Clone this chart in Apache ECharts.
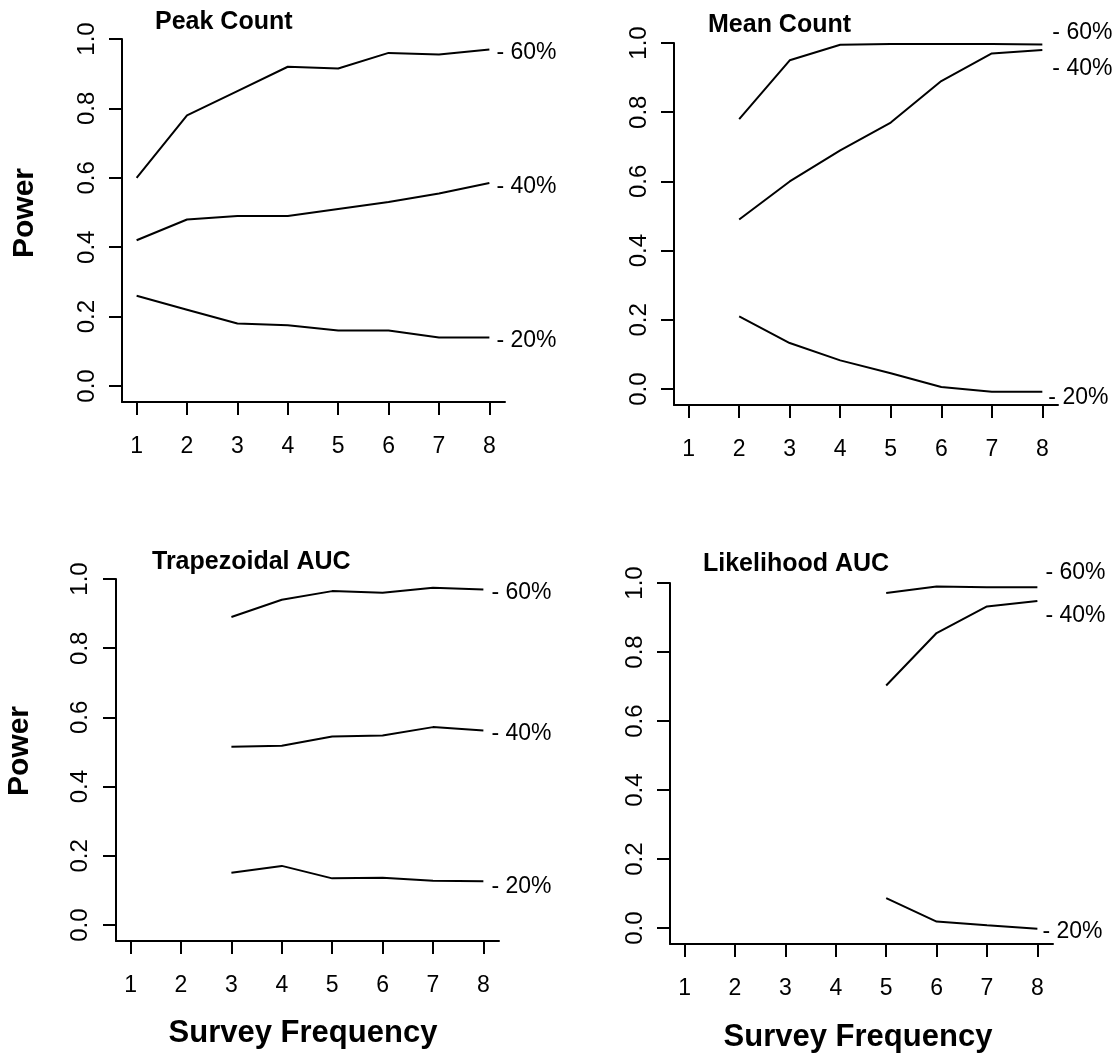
<!DOCTYPE html>
<html><head><meta charset="utf-8">
<script src="https://cdn.jsdelivr.net/npm/echarts@6/dist/echarts.min.js"></script>
<style>html,body{margin:0;padding:0;background:#fff}#chart{width:1118px;height:1060px}</style>
</head><body><div id="chart"></div>
<script>
// ---- data ----
const frequency = [1, 2, 3, 4, 5, 6, 7, 8];
const xTicks = [1, 2, 3, 4, 5, 6, 7, 8];
const yTicks = [0, 0.2, 0.4, 0.6, 0.8, 1.0];
const panelTitles = ['Peak Count', 'Mean Count', 'Trapezoidal AUC', 'Likelihood AUC'];
const seriesLabels = ['- 60%', '- 40%', '- 20%'];
const yAxisTitle = 'Power';
const xAxisTitle = 'Survey Frequency';

const peak60 = [0.60, 0.78, 0.85, 0.92, 0.915, 0.96, 0.955, 0.97];
const peak40 = [0.42, 0.48, 0.49, 0.49, 0.51, 0.53, 0.555, 0.585];
const peak20 = [0.26, 0.22, 0.18, 0.175, 0.16, 0.16, 0.14, 0.14];

const mean60 = [null, 0.78, 0.95, 0.995, 0.997, 0.997, 0.997, 0.996];
const mean40 = [null, 0.49, 0.60, 0.69, 0.77, 0.89, 0.97, 0.98];
const mean20 = [null, 0.21, 0.133, 0.083, 0.046, 0.006, -0.008, -0.008];

const trap60 = [null, null, 0.89, 0.94, 0.965, 0.96, 0.975, 0.97];
const trap40 = [null, null, 0.515, 0.518, 0.545, 0.548, 0.572, 0.562];
const trap20 = [null, null, 0.151, 0.171, 0.135, 0.137, 0.128, 0.127];

const lik60 = [null, null, null, null, 0.971, 0.99, 0.988, 0.988];
const lik40 = [null, null, null, null, 0.703, 0.855, 0.932, 0.948];
const lik20 = [null, null, null, null, 0.087, 0.019, 0.008, -0.002];

const panelData = [
  [peak60, peak40, peak20],
  [mean60, mean40, mean20],
  [trap60, trap40, trap20],
  [lik60, lik40, lik20]
];

// ---- layout / style ----
const FONT = '"Liberation Sans", Arial, Helvetica, sans-serif';
const layout = [
  {grid: {left: 122, top: 39, width: 383, height: 363}, title: {left: 155, top: 10}, yMargin: 23, off: [[7, 3], [7, 4], [7, 3]]},
  {grid: {left: 674, top: 43, width: 384, height: 362}, title: {left: 708, top: 13}, yMargin: 23, off: [[10, -12], [10, 19], [6, 6]]},
  {grid: {left: 116, top: 579, width: 383, height: 362}, title: {left: 152, top: 550}, yMargin: 24, off: [[8, 3], [8, 3], [8, 6]]},
  {grid: {left: 670, top: 583, width: 383, height: 361}, title: {left: 703, top: 552}, yMargin: 23, off: [[8, -14], [8, 15], [5, 3]]}
];
const axisLineStyle = {color: '#000', width: 2};

const grids = [], xAxes = [], yAxes = [], titles = [], series = [];
layout.forEach((L, i) => {
  grids.push(Object.assign({containLabel: false}, L.grid));
  titles.push({
    text: panelTitles[i], left: L.title.left, top: L.title.top, padding: 0,
    textStyle: {fontFamily: FONT, fontSize: 25, fontWeight: 'bold', color: '#000'}
  });
  xAxes.push({
    gridIndex: i, type: 'value', min: 0.71, max: 8.31,
    axisLine: {show: true, onZero: false, lineStyle: axisLineStyle},
    axisTick: {show: true, customValues: xTicks, length: 13, lineStyle: axisLineStyle},
    axisLabel: {show: true, customValues: xTicks, margin: 33, color: '#000', fontSize: 23, fontFamily: FONT},
    splitLine: {show: false}
  });
  yAxes.push({
    gridIndex: i, type: 'value', min: -0.046, max: 1.0,
    axisLine: {show: true, onZero: false, lineStyle: axisLineStyle},
    axisTick: {show: true, customValues: yTicks, length: 13, lineStyle: axisLineStyle},
    axisLabel: {show: true, customValues: yTicks, rotate: 90, margin: L.yMargin, color: '#000', fontSize: 24, fontFamily: FONT,
      formatter: v => Number(v).toFixed(1)},
    splitLine: {show: false}
  });
  panelData[i].forEach((arr, j) => {
    series.push({
      type: 'line', xAxisIndex: i, yAxisIndex: i,
      data: frequency.map((x, k) => [x, arr[k]]).filter(p => p[1] !== null),
      showSymbol: false, symbol: 'none', silent: true, animation: false,
      lineStyle: {color: '#000', width: 2}, itemStyle: {color: '#000'},
      endLabel: {show: true, formatter: seriesLabels[j], distance: L.off[j][0], offset: [0, L.off[j][1]],
        color: '#000', fontSize: 23, fontFamily: FONT}
    });
  });
});

const graphics = [
  {type: 'text', x: 25, y: 213, rotation: Math.PI / 2,
    style: {text: yAxisTitle, fill: '#000', font: 'bold 30px ' + FONT, align: 'center', verticalAlign: 'middle'}},
  {type: 'text', x: 20, y: 751, rotation: Math.PI / 2,
    style: {text: yAxisTitle, fill: '#000', font: 'bold 30px ' + FONT, align: 'center', verticalAlign: 'middle'}},
  {type: 'text', x: 303, y: 1033,
    style: {text: xAxisTitle, fill: '#000', font: 'bold 31px ' + FONT, align: 'center', verticalAlign: 'middle'}},
  {type: 'text', x: 858, y: 1037,
    style: {text: xAxisTitle, fill: '#000', font: 'bold 31px ' + FONT, align: 'center', verticalAlign: 'middle'}}
];

const chart = echarts.init(document.getElementById('chart'), null, {renderer: 'canvas'});
chart.setOption({
  backgroundColor: '#fff',
  animation: false,
  title: titles,
  grid: grids,
  xAxis: xAxes,
  yAxis: yAxes,
  series: series,
  graphic: graphics
});
</script>
</body></html>
